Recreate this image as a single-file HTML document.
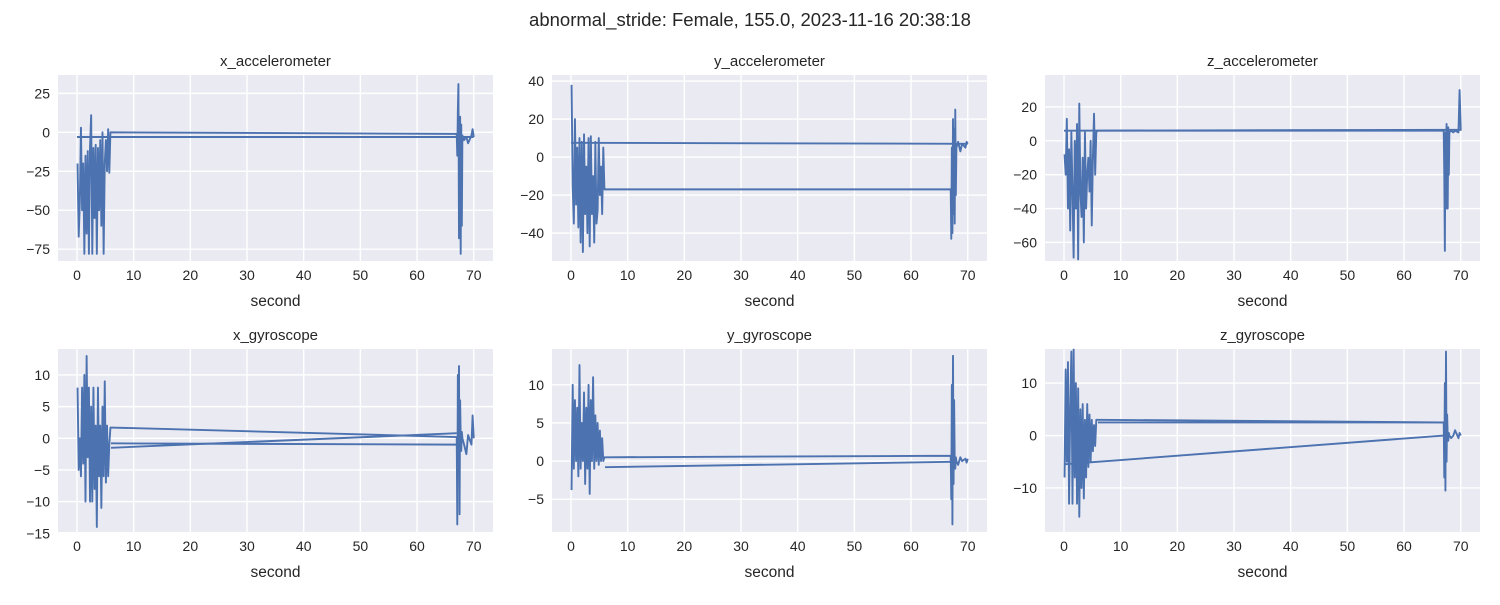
<!DOCTYPE html>
<html><head><meta charset="utf-8"><style>
body{margin:0;background:#fff;font-family:"Liberation Sans",sans-serif}
svg text{font-family:"Liberation Sans",sans-serif;fill:#262626}
</style></head><body>
<svg id="c" width="1500" height="600">
<text x="750" y="26" font-size="18.5" text-anchor="middle">abnormal_stride: Female, 155.0, 2023-11-16 20:38:18</text>
</svg>
<script>
const T1=[0.1,0.3,0.5,0.7,0.9,1.1,1.3,1.5,1.7,1.9,2.1,2.3,2.5,2.7,2.9,3.1,3.3,3.5,3.7,3.9,4.1,4.3,4.5,4.7,4.9,5.1,5.3,5.5,5.7,5.9];
const T2=[67,67.1,67.2,67.3,67.4,67.5,67.6,67.7,67.8,67.9,68.0,68.3,68.7,69,69.6,69.8,70];
const xTicks=[0,10,20,30,40,50,60,70];
const titles=["x_accelerometer","y_accelerometer","z_accelerometer","x_gyroscope","y_gyroscope","z_gyroscope"];
const B1=[
[-20,-67,-45,3,-50,-20,-78,-15,-65,-12,-78,-10,11,-78,-10,-55,-8,-78,-10,-50,-5,-60,0,-78,-20,-5,-25,2,-26,0],
[38,-15,-35,20,-25,5,-37,10,-45,8,-50,12,-30,-5,-40,10,-47,11,-30,-10,-45,8,-35,-28,10,-20,-5,-30,5,-17],
[-8,-20,13,-40,-5,-53,5,-30,-69,0,-40,10,-70,22,-30,-45,-10,-60,5,-40,-20,-10,-30,0,-50,-10,16,-20,5,6],
[8,-5,0,-6,8,-4,10,-10,13,-3,8,-10,5,-10,8,-8,2,-14,8,-6,2,-11,5,-6,9,-7,2,-6,-1,1.7],
[-3.8,10,-1,8,0,7,-2,12.6,-1,5,0,9,-3,7,-1,10,-4.3,8,0,11,-1,6,0,5,-0.5,4,0,3,0,0.5],
[-8,12.6,-5,14,-13,5,16,-13,16.4,-8,10,-13,9,-15.5,5,-10,6,-12,3,-8,6,-6,4,-5,3,-3,2,-2,3,3]];
const B2=[
[-1,-15,14,31,-68,-40,10,-78,5,-60,-2,-5,-3,-7,-2,2,-3],
[-17,-43,5,-40,20,-30,15,-35,25,-20,5,8,3,7,5,8,7],
[6,-20,-65,5,-40,10,-30,-40,8,-20,5,6,5,6,5,30,6],
[0.2,-13.6,10,-5,11.4,-12,6,0,-2,1,0,-1,-2.5,0.5,-1,3.6,0],
[0.7,-5,10,-8.3,13.8,-3,8,0,-1,0.5,0,-0.5,0.5,0,0.3,-0.2,0.3],
[2.5,-8,10,-10.5,16,-5,4,0,-1,0.5,0,-0.5,0,1,-0.5,0.5,0]];
const links=[[[0,-3,70,-3]],[[0,7.5,70,7]],[[0,6,70,6.5]],[[6,-1.5,67,0.8],[6,-0.8,67,-1]],[[6,-0.8,67,-0.1]],[[6,2.5,67,2.5],[0,-5.5,67,0]]];
const yTicks=[[25,0,-25,-50,-75],[40,20,0,-20,-40],[20,0,-20,-40,-60],[10,5,0,-5,-10,-15],[10,5,0,-5],[10,0,-10]];
const yMin=[-82.6,-54.7,-71,-14.8,-9.3,-18.4];
const yMax=[36.8,43.2,38.9,14.1,14.7,16.5];
const NS="http://www.w3.org/2000/svg",svg=document.getElementById('c');
function mk(tag,attrs,parent){const e=document.createElementNS(NS,tag);for(const k in attrs)e.setAttribute(k,attrs[k]);(parent||svg).appendChild(e);return e;}
const lefts=[58,552,1045],tops=[75,349],W=435,H=[186,183];
for(let p=0;p<6;p++){
 const L=lefts[p%3],Tp=tops[Math.floor(p/3)],h=H[Math.floor(p/3)];
 const g=mk('g',{});
 
 
 const xs=v=>L+(v+3.35)/(76.75)*W;
 const ys=v=>Tp+(yMax[p]-v)/(yMax[p]-yMin[p])*h;
 mk('rect',{x:L,y:Tp,width:W,height:h,fill:'#eaeaf2'},g);
 xTicks.forEach(t=>{mk('line',{x1:xs(t),x2:xs(t),y1:Tp,y2:Tp+h,stroke:'#fff','stroke-width':1.4},g);
  const tx=mk('text',{x:xs(t),y:Tp+h+19,'font-size':14,'text-anchor':'middle'},g);tx.textContent=t;
  
  });
 yTicks[p].forEach(t=>{mk('line',{x1:L,x2:L+W,y1:ys(t),y2:ys(t),stroke:'#fff','stroke-width':1.4},g);
  const tx=mk('text',{x:L-8,y:ys(t)+5,'font-size':14,'text-anchor':'end'},g);tx.textContent=(t<0?'\u2212'+(-t):t);
  
  });
 const tt=mk('text',{x:L+W/2,y:Tp-9,'font-size':15,'text-anchor':'middle'},g);tt.textContent=titles[p];
 
 
 const xl=mk('text',{x:L+W/2,y:Tp+h+45,'font-size':15.5,'text-anchor':'middle'},g);xl.textContent='second';
 
 
 const pts=[];T1.forEach((t,i)=>pts.push(xs(t)+','+ys(B1[p][i])));T2.forEach((t,i)=>pts.push(xs(t)+','+ys(B2[p][i])));
 const pl=mk('polyline',{points:pts.join(' '),fill:'none',stroke:'#4c72b0','stroke-width':1.9,'stroke-linejoin':'round'},g);
 
 
 links[p].forEach(l=>{const ln=mk('line',{x1:xs(l[0]),y1:ys(l[1]),x2:xs(l[2]),y2:ys(l[3]),stroke:'#4c72b0','stroke-width':1.9},g);
  
  });
}
</script>
</body></html>
